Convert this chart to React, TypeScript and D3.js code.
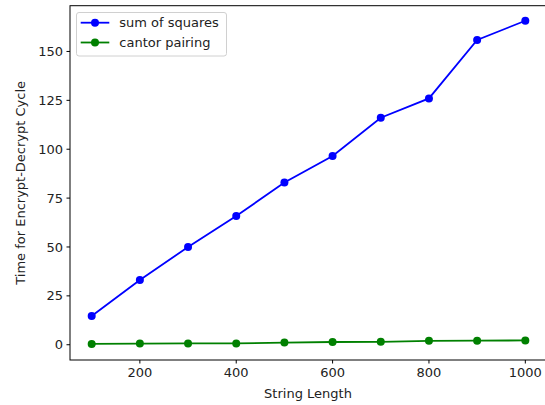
import React from "react";
import * as d3 from "d3";

const lengths = [100, 200, 300, 400, 500, 600, 700, 800, 900, 1000];
const sumOfSquares = [14.7, 33.1, 50.0, 65.8, 83.0, 96.5, 116.1, 126.0, 155.9, 165.7];
const cantorPairing = [0.4, 0.6, 0.7, 0.7, 1.1, 1.4, 1.5, 2.0, 2.1, 2.2];
const xTicks = [200, 400, 600, 800, 1000];
const yTicks = [0, 25, 50, 75, 100, 125, 150];

const series = [
  { name: "sum of squares", values: sumOfSquares, color: "#0000ff" },
  { name: "cantor pairing", values: cantorPairing, color: "#008000" },
];

const W = 545;
const H = 405;
const L = 70, R = 547, T = 5.7, B = 360;
const FONT = "DejaVu Sans, sans-serif";
const FS = 13;

export default function App() {
  const x = d3.scaleLinear().domain([55, 1045]).range([L, R]);
  const y = d3.scaleLinear().domain([-7.8, 173.4]).range([B, T]);
  const line = d3
    .line<[number, number]>()
    .x((d) => x(d[0]))
    .y((d) => y(d[1]));

  return (
    <svg
      width={W}
      height={H}
      style={{ position: "absolute", left: 0, top: 0, background: "#fff" }}
      fontFamily={FONT}
    >
      <rect x={0} y={0} width={W} height={H} fill="#fff" />
      {series.map((s) => (
        <g key={s.name}>
          <path
            d={line(lengths.map((l, i) => [l, s.values[i]]) as [number, number][]) || ""}
            fill="none"
            stroke={s.color}
            strokeWidth={1.8}
          />
          {lengths.map((l, i) => (
            <circle key={l} cx={x(l)} cy={y(s.values[i])} r={4} fill={s.color} />
          ))}
        </g>
      ))}
      {/* spines */}
      <rect x={L} y={T} width={R - L} height={B - T} fill="none" stroke="#000" strokeWidth={1} />
      {/* x ticks */}
      {xTicks.map((t) => (
        <g key={t}>
          <line x1={x(t)} x2={x(t)} y1={B} y2={B + 3.5} stroke="#000" strokeWidth={1} />
          <text x={x(t)} y={B + 7} dy="0.8em" textAnchor="middle" fontSize={FS} fill="#222">
            {t}
          </text>
        </g>
      ))}
      {/* y ticks */}
      {yTicks.map((t) => (
        <g key={t}>
          <line x1={L - 3.5} x2={L} y1={y(t)} y2={y(t)} stroke="#000" strokeWidth={1} />
          <text x={L - 7} y={y(t)} dy="0.35em" textAnchor="end" fontSize={FS} fill="#222">
            {t}
          </text>
        </g>
      ))}
      <text x={308} y={398} textAnchor="middle" fontSize={FS} fill="#222">
        String Length
      </text>
      <text
        transform={`translate(25,${(T + B) / 2}) rotate(-90)`}
        textAnchor="middle"
        fontSize={FS}
        fill="#222"
      >
        Time for Encrypt-Decrypt Cycle
      </text>
      {/* legend */}
      <rect x={76.5} y={12.5} width={150} height={43.5} rx={2.5} fill="#fff" fillOpacity={0.8} stroke="#d0d0d0" strokeWidth={1} />
      {series.map((s, i) => {
        const cy = 22.7 + i * 19.8;
        return (
          <g key={s.name}>
            <line x1={80.7} x2={109.3} y1={cy} y2={cy} stroke={s.color} strokeWidth={1.8} />
            <circle cx={95} cy={cy} r={4} fill={s.color} />
            <text x={119.3} y={cy} dy="0.35em" fontSize={FS} fill="#222">
              {s.name}
            </text>
          </g>
        );
      })}
    </svg>
  );
}
